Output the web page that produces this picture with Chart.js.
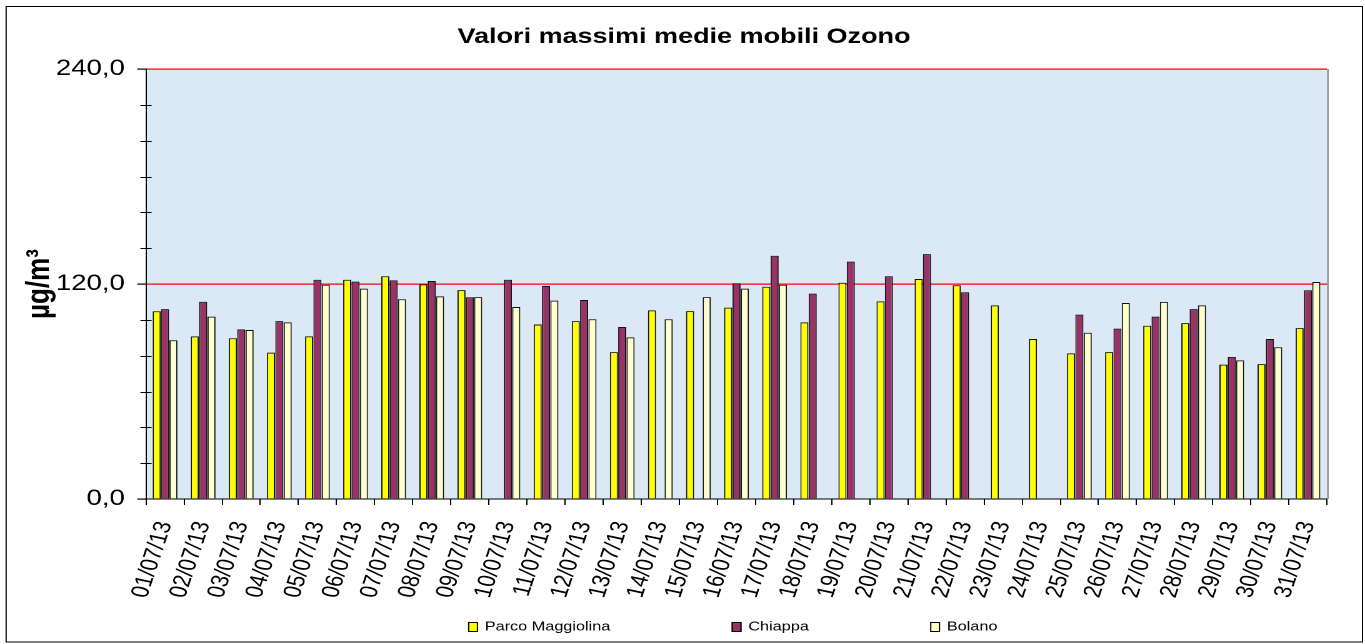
<!DOCTYPE html>
<html><head><meta charset="utf-8">
<script src="https://cdn.jsdelivr.net/npm/chart.js@4"></script>
<style>
html,body{margin:0;padding:0;background:#fff;overflow:hidden;}
#wrap{position:absolute;left:0;top:0;width:1092px;height:644px;transform:scaleX(1.25);transform-origin:0 0;}
</style></head><body>
<div id="wrap"><canvas id="c"></canvas></div>
<script>
const categories = ['01/07/13','02/07/13','03/07/13','04/07/13','05/07/13','06/07/13','07/07/13','08/07/13','09/07/13','10/07/13','11/07/13','12/07/13','13/07/13','14/07/13','15/07/13','16/07/13','17/07/13','18/07/13','19/07/13','20/07/13','21/07/13','22/07/13','23/07/13','24/07/13','25/07/13','26/07/13','27/07/13','28/07/13','29/07/13','30/07/13','31/07/13'];
const parcoMaggiolina = [104.8, 90.8, 89.7, 81.7, 90.8, 122.4, 124.3, 119.8, 116.6, null, 97.4, 99.3, 82.0, 105.3, 104.9, 106.8, 118.5, 98.6, 120.7, 110.3, 122.8, 119.3, 108.1, 89.3, 81.3, 82.0, 96.7, 98.2, 75.0, 75.3, 95.4];
const chiappa = [106.0, 110.1, 94.7, 99.3, 122.4, 121.3, 122.0, 121.7, 112.6, 122.4, 118.9, 111.1, 96.0, null, null, 120.4, 135.8, 114.6, 132.5, 124.3, 136.7, 115.4, null, null, 102.9, 95.1, 101.8, 106.0, 79.3, 89.3, 116.5];
const bolano = [88.6, 101.8, 94.3, 98.6, 119.6, 117.4, 111.5, 113.1, 112.7, 107.2, 110.7, 100.3, 90.2, 100.3, 112.7, 117.4, 119.6, null, null, null, null, null, null, null, 92.8, 109.4, 110.0, 108.1, 77.4, 84.7, 121.1];
const seriesNames = ['Parco Maggiolina', 'Chiappa', 'Bolano'];
const yTickLabels = ['0,0', '120,0', '240,0'];
const yMajorValues = [0, 120, 240];
const limitLines = [120, 240];

const FONT = "'Liberation Sans', Arial, sans-serif";
Chart.defaults.font.family = FONT;
Chart.defaults.color = '#000';

const framePlugin = {
  id: 'frame',
  beforeDraw(chart) {
    const {ctx, chartArea: a} = chart;
    ctx.save();
    ctx.fillStyle = '#ffffff';
    ctx.fillRect(0, 0, chart.width, chart.height);
    ctx.fillStyle = '#dbe8f6';
    ctx.fillRect(a.left, a.top, a.right - a.left, a.bottom - a.top);
    ctx.strokeStyle = '#9a9a9a';
    ctx.lineWidth = 1.4;
    ctx.beginPath();
    ctx.moveTo(a.right + 0.7, a.top);
    ctx.lineTo(a.right + 0.7, a.bottom);
    ctx.stroke();
    ctx.strokeStyle = '#000';
    ctx.lineWidth = 1;
    ctx.strokeRect(4.9, 6.5, 1090 - 4.9, 642 - 6.5);
    ctx.restore();
  },
  afterDraw(chart) {
    const {ctx, chartArea: a} = chart;
    const ds = chart.data.datasets;
    ctx.save();
    // minor ticks crossing the value axis
    const ys = chart.scales.y;
    ctx.strokeStyle = '#000';
    ctx.lineWidth = 1;
    for (let v = 20; v < 240; v += 20) {
      if (yMajorValues.includes(v)) continue;
      const py = Math.round(ys.getPixelForValue(v)) + 0.5;
      ctx.beginPath();
      ctx.moveTo(a.left - 4.5, py);
      ctx.lineTo(a.left + 4.5, py);
      ctx.stroke();
    }
    ctx.font = '13px ' + FONT;
    ctx.textBaseline = 'middle';
    ctx.textAlign = 'left';
    const boxW = 8, boxH = 10, gapText = 5.4, gapItem = 97;
    const widths = ds.map(d => boxW + gapText + ctx.measureText(d.label).width);
    const total = widths.reduce((s, w) => s + w, 0) + gapItem * (ds.length - 1);
    let x = (a.left + a.right) / 2 - 3 - total / 2;
    const yMid = 627;
    ds.forEach((d, i) => {
      ctx.fillStyle = d.backgroundColor;
      ctx.fillRect(x, yMid - boxH / 2, boxW, boxH);
      ctx.strokeStyle = '#000';
      ctx.lineWidth = 1;
      ctx.strokeRect(x + 0.5, yMid - boxH / 2 + 0.5, boxW - 1, boxH - 1);
      ctx.fillStyle = '#000';
      ctx.fillText(d.label, x + boxW + gapText, yMid);
      x += widths[i] + gapItem;
    });
    ctx.restore();
  }
};

const colors = ['#ffff00', '#993366', '#ffffcc'];
const seriesData = [parcoMaggiolina, chiappa, bolano];

new Chart(document.getElementById('c'), {
  type: 'bar',
  data: {
    labels: categories,
    datasets: seriesNames.map((n, i) => ({
      label: n,
      data: seriesData[i],
      backgroundColor: colors[i],
      borderColor: '#111',
      borderWidth: 1,
      categoryPercentage: 0.656,
      barPercentage: 0.97
    }))
  },
  options: {
    responsive: true,
    maintainAspectRatio: false,
    animation: false,
    devicePixelRatio: 2,
    layout: { padding: { left: 32.8, right: 30.4, top: 0, bottom: 35 } },
    plugins: {
      legend: { display: false },
      tooltip: { enabled: false },
      title: {
        display: true,
        text: 'Valori massimi medie mobili Ozono',
        font: { size: 21.6, weight: 'bold' },
        color: '#000',
        padding: { top: 24, bottom: 19.1 }
      }
    },
    scales: {
      x: {
        offset: true,
        grid: { display: true, drawOnChartArea: false, offset: true, tickLength: 6, tickColor: '#000', color: '#000' },
        border: { display: true, color: '#000', width: 1 },
        ticks: { autoSkip: false, minRotation: 75, maxRotation: 75, padding: 14, font: { size: 20 }, color: '#000' },
        afterFit(scale) { scale.height = 110; }
      },
      y: {
        min: 0, max: 240,
        afterBuildTicks(scale) {
          const t = [];
          for (let v = 0; v <= 240; v += 20) t.push({ value: v });
          scale.ticks = t;
        },
        grid: {
          drawOnChartArea: true,
          color: (c) => (c.tick && limitLines.includes(c.tick.value)) ? '#ff0000' : 'rgba(0,0,0,0)',
          lineWidth: 1.2,
          tickColor: (c) => (c.tick && yMajorValues.includes(c.tick.value)) ? '#000' : 'rgba(0,0,0,0)',
          tickLength: 7
        },
        border: { display: true, color: '#000', width: 1 },
        ticks: {
          padding: 10,
          font: { size: 22 },
          color: '#000',
          callback: (v) => { const k = yMajorValues.indexOf(v); return k >= 0 ? yTickLabels[k] : ''; }
        },
        title: {
          display: true,
          text: 'µg/m³',
          font: { size: 26, weight: 'bold' },
          color: '#000',
          padding: { top: -16.4, bottom: 0 }
        },
        afterFit(scale) { scale.width = 84; }
      }
    }
  },
  plugins: [framePlugin]
});
</script>
</body></html>
